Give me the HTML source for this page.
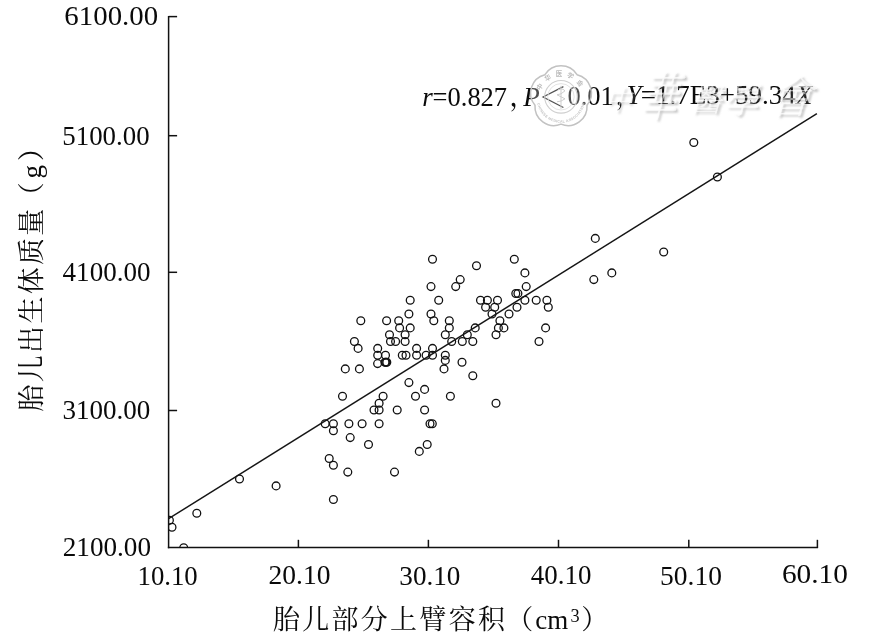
<!DOCTYPE html>
<html lang="zh"><head><meta charset="utf-8"><title>胎儿部分上臂容积与出生体质量</title>
<style>
html,body{margin:0;padding:0;background:#fff;}
body{width:875px;height:641px;overflow:hidden;}
svg{display:block;}
text{font-family:"Liberation Serif","Noto Serif CJK SC",serif;fill:#0a0a0a;}
.num text{font-size:27px;}
.cj{font-family:"Liberation Serif","Noto Serif CJK SC",serif;font-weight:400;}
</style></head><body>
<svg width="875" height="641" viewBox="0 0 875 641">
<rect width="875" height="641" fill="#fff"/>
<defs><clipPath id="plot"><rect x="168.6" y="0" width="700" height="547.6"/></clipPath></defs>
<g fill="none" stroke="#111" stroke-width="1.3" clip-path="url(#plot)">
<circle cx="693.8" cy="142.5" r="3.9"/>
<circle cx="717.4" cy="177.0" r="3.9"/>
<circle cx="595.3" cy="238.4" r="3.9"/>
<circle cx="663.7" cy="252.0" r="3.9"/>
<circle cx="432.5" cy="259.2" r="3.9"/>
<circle cx="514.3" cy="259.2" r="3.9"/>
<circle cx="476.5" cy="265.8" r="3.9"/>
<circle cx="524.9" cy="272.9" r="3.9"/>
<circle cx="611.8" cy="272.9" r="3.9"/>
<circle cx="460.2" cy="279.6" r="3.9"/>
<circle cx="593.8" cy="279.6" r="3.9"/>
<circle cx="455.7" cy="286.6" r="3.9"/>
<circle cx="431.0" cy="286.6" r="3.9"/>
<circle cx="526.2" cy="286.6" r="3.9"/>
<circle cx="515.8" cy="293.5" r="3.9"/>
<circle cx="517.9" cy="293.5" r="3.9"/>
<circle cx="410.2" cy="300.2" r="3.9"/>
<circle cx="438.7" cy="300.2" r="3.9"/>
<circle cx="480.5" cy="300.2" r="3.9"/>
<circle cx="487.4" cy="300.2" r="3.9"/>
<circle cx="497.5" cy="300.2" r="3.9"/>
<circle cx="524.9" cy="300.2" r="3.9"/>
<circle cx="536.2" cy="300.2" r="3.9"/>
<circle cx="546.9" cy="300.2" r="3.9"/>
<circle cx="485.6" cy="307.3" r="3.9"/>
<circle cx="494.7" cy="307.3" r="3.9"/>
<circle cx="517.0" cy="307.3" r="3.9"/>
<circle cx="548.3" cy="307.3" r="3.9"/>
<circle cx="408.9" cy="314.05" r="3.9"/>
<circle cx="431.0" cy="314.05" r="3.9"/>
<circle cx="492.0" cy="314.05" r="3.9"/>
<circle cx="509.0" cy="314.05" r="3.9"/>
<circle cx="360.8" cy="320.8" r="3.9"/>
<circle cx="386.6" cy="320.8" r="3.9"/>
<circle cx="398.7" cy="320.8" r="3.9"/>
<circle cx="433.8" cy="320.8" r="3.9"/>
<circle cx="449.3" cy="320.8" r="3.9"/>
<circle cx="499.9" cy="320.8" r="3.9"/>
<circle cx="399.6" cy="327.9" r="3.9"/>
<circle cx="410.2" cy="327.9" r="3.9"/>
<circle cx="449.3" cy="327.9" r="3.9"/>
<circle cx="475.2" cy="327.9" r="3.9"/>
<circle cx="498.4" cy="327.9" r="3.9"/>
<circle cx="503.9" cy="327.9" r="3.9"/>
<circle cx="545.6" cy="327.9" r="3.9"/>
<circle cx="389.5" cy="334.7" r="3.9"/>
<circle cx="405.1" cy="334.7" r="3.9"/>
<circle cx="445.3" cy="334.7" r="3.9"/>
<circle cx="467.3" cy="334.7" r="3.9"/>
<circle cx="496.0" cy="334.7" r="3.9"/>
<circle cx="354.4" cy="341.5" r="3.9"/>
<circle cx="390.5" cy="341.5" r="3.9"/>
<circle cx="395.6" cy="341.5" r="3.9"/>
<circle cx="405.1" cy="341.5" r="3.9"/>
<circle cx="451.7" cy="341.5" r="3.9"/>
<circle cx="462.3" cy="341.5" r="3.9"/>
<circle cx="472.8" cy="341.5" r="3.9"/>
<circle cx="539.0" cy="341.5" r="3.9"/>
<circle cx="358.1" cy="348.4" r="3.9"/>
<circle cx="377.7" cy="348.4" r="3.9"/>
<circle cx="416.6" cy="348.4" r="3.9"/>
<circle cx="432.5" cy="348.4" r="3.9"/>
<circle cx="377.7" cy="355.3" r="3.9"/>
<circle cx="385.5" cy="355.3" r="3.9"/>
<circle cx="402.3" cy="355.3" r="3.9"/>
<circle cx="406.0" cy="355.3" r="3.9"/>
<circle cx="416.6" cy="355.3" r="3.9"/>
<circle cx="426.1" cy="355.3" r="3.9"/>
<circle cx="432.5" cy="355.3" r="3.9"/>
<circle cx="445.3" cy="355.3" r="3.9"/>
<circle cx="445.3" cy="360.4" r="3.9"/>
<circle cx="385.0" cy="362.3" r="3.9"/>
<circle cx="385.9" cy="362.3" r="3.9"/>
<circle cx="386.8" cy="362.3" r="3.9"/>
<circle cx="462.0" cy="362.3" r="3.9"/>
<circle cx="377.6" cy="363.6" r="3.9"/>
<circle cx="345.3" cy="368.9" r="3.9"/>
<circle cx="359.4" cy="368.9" r="3.9"/>
<circle cx="444.0" cy="368.9" r="3.9"/>
<circle cx="472.8" cy="375.8" r="3.9"/>
<circle cx="408.9" cy="382.6" r="3.9"/>
<circle cx="424.6" cy="389.4" r="3.9"/>
<circle cx="342.5" cy="396.3" r="3.9"/>
<circle cx="383.1" cy="396.3" r="3.9"/>
<circle cx="415.5" cy="396.3" r="3.9"/>
<circle cx="450.4" cy="396.3" r="3.9"/>
<circle cx="379.1" cy="403.3" r="3.9"/>
<circle cx="496.0" cy="403.3" r="3.9"/>
<circle cx="374.0" cy="410.0" r="3.9"/>
<circle cx="379.1" cy="410.0" r="3.9"/>
<circle cx="397.2" cy="410.0" r="3.9"/>
<circle cx="424.6" cy="410.0" r="3.9"/>
<circle cx="325.2" cy="423.8" r="3.9"/>
<circle cx="333.4" cy="423.8" r="3.9"/>
<circle cx="348.9" cy="423.8" r="3.9"/>
<circle cx="362.1" cy="423.8" r="3.9"/>
<circle cx="379.1" cy="423.8" r="3.9"/>
<circle cx="430.0" cy="423.8" r="3.9"/>
<circle cx="432.3" cy="423.8" r="3.9"/>
<circle cx="333.4" cy="430.7" r="3.9"/>
<circle cx="350.2" cy="437.6" r="3.9"/>
<circle cx="368.5" cy="444.5" r="3.9"/>
<circle cx="427.2" cy="444.5" r="3.9"/>
<circle cx="419.3" cy="451.4" r="3.9"/>
<circle cx="329.2" cy="458.5" r="3.9"/>
<circle cx="333.4" cy="465.3" r="3.9"/>
<circle cx="347.8" cy="472.1" r="3.9"/>
<circle cx="394.5" cy="472.1" r="3.9"/>
<circle cx="239.5" cy="479.0" r="3.9"/>
<circle cx="276.1" cy="485.9" r="3.9"/>
<circle cx="333.4" cy="499.5" r="3.9"/>
<circle cx="196.8" cy="513.3" r="3.9"/>
<circle cx="169.4" cy="520.3" r="3.9"/>
<circle cx="172.0" cy="527.3" r="3.9"/>
<circle cx="183.7" cy="547.8" r="3.9"/>
</g>
<line x1="168.6" y1="518.7" x2="816.9" y2="113.6" stroke="#151515" stroke-width="1.45"/>
<g stroke="#111" stroke-width="1.5" fill="none">
<line x1="168.6" y1="15.9" x2="168.6" y2="548.35"/>
<line x1="167.85" y1="547.6" x2="818.1" y2="547.6"/>
<line x1="168.6" y1="16.6" x2="177.1" y2="16.6"/><line x1="168.6" y1="135.7" x2="177.1" y2="135.7"/><line x1="168.6" y1="272.3" x2="177.1" y2="272.3"/><line x1="168.6" y1="410.5" x2="177.1" y2="410.5"/><line x1="298.4" y1="547.6" x2="298.4" y2="539.8000000000001"/><line x1="428.4" y1="547.6" x2="428.4" y2="539.8000000000001"/><line x1="558.5" y1="547.6" x2="558.5" y2="539.8000000000001"/><line x1="688.8" y1="547.6" x2="688.8" y2="539.8000000000001"/><line x1="817.4" y1="547.6" x2="817.4" y2="539.8000000000001"/>
</g>
<g class="num">
<text x="64.37" y="25" textLength="93.76" lengthAdjust="spacingAndGlyphs">6100.00</text>
<text x="62.30" y="144.5" textLength="87.29" lengthAdjust="spacingAndGlyphs">5100.00</text>
<text x="62.58" y="281" textLength="87.91" lengthAdjust="spacingAndGlyphs">4100.00</text>
<text x="62.47" y="419.25" textLength="87.93" lengthAdjust="spacingAndGlyphs">3100.00</text>
<text x="62.71" y="556" textLength="88.31" lengthAdjust="spacingAndGlyphs">2100.00</text>
<text x="137.49" y="584.75" textLength="60.28" lengthAdjust="spacingAndGlyphs">10.10</text>
<text x="268.50" y="583.5" textLength="61.95" lengthAdjust="spacingAndGlyphs">20.10</text>
<text x="399.33" y="584.9" textLength="61.13" lengthAdjust="spacingAndGlyphs">30.10</text>
<text x="530.76" y="583.5" textLength="60.61" lengthAdjust="spacingAndGlyphs">40.10</text>
<text x="660.07" y="584.9" textLength="61.84" lengthAdjust="spacingAndGlyphs">50.10</text>
<text x="781.90" y="582.9" textLength="65.97" lengthAdjust="spacingAndGlyphs">60.10</text>
</g>
<g font-size="27">
<text class="cj" x="272.9 302.2 331.5 360.8 390.1 419.4 448.7 478.0" y="629.3">胎儿部分上臂容积</text>
<text class="cj" x="506.3" y="629.3">（</text>
<text x="535.3" y="628.7">cm</text>
<text x="570.6" y="621.9" font-size="18.3">3</text>
<text class="cj" x="581.3" y="629.3">）</text>
</g>
<g font-size="27" transform="rotate(-90)">
<text class="cj" x="-411.5 -382.2 -352.9 -323.6 -294.3 -265.0 -235.7" y="41.2">胎儿出生体质量</text>
<text class="cj" x="-209.2" y="41.2">（</text>
<text x="-178.6" y="41.2">g</text>
<text class="cj" x="-161.2" y="41.2">）</text>
</g>
<g font-size="27">
<text x="422.2" y="105.9" font-style="italic">r</text>
<text x="432.6" y="105.9" textLength="74.5" lengthAdjust="spacingAndGlyphs">=0.827</text>
<text class="cj" x="509.3" y="105.9">，</text>
<text x="523.3" y="105.5" font-style="italic">P</text>
<text class="cj" x="538.2" y="107.7" font-size="28.9" style="font-weight:300">＜</text>
<text x="567.4" y="105" textLength="46.4" lengthAdjust="spacingAndGlyphs">0.01</text>
<text class="cj" x="615.2" y="105">，</text>
<text y="103.6"><tspan x="626.6" font-style="italic">Y</tspan><tspan x="640.8">=1.7E3+59.34</tspan><tspan font-style="italic">X</tspan></text>
</g>
<defs>
<filter id="soft" x="-20%" y="-20%" width="140%" height="140%"><feGaussianBlur stdDeviation="0.55"/></filter>
<filter id="emb" x="-20%" y="-20%" width="140%" height="140%">
<feGaussianBlur in="SourceAlpha" stdDeviation="0.9" result="b"/>
<feOffset in="b" dx="1.6" dy="1.6" result="o"/>
<feFlood flood-color="#808080" flood-opacity="0.85"/><feComposite in2="o" operator="in" result="sh"/>
<feMerge><feMergeNode in="sh"/><feMergeNode in="SourceGraphic"/></feMerge>
</filter>
<path id="arcT" d="M539.5,97.8 A21.5,21.5 0 0 1 582.5,97.8"/>
<path id="arcB" d="M537.0,98.8 A24,24 0 0 0 585.0,98.8"/>
</defs>
<g filter="url(#soft)">
<path d="M544.92,74.67 A19,19 0 0 1 577.08,74.67 A19,19 0 0 1 587.01,105.25 A19,19 0 0 1 561.00,124.15 A19,19 0 0 1 534.99,105.25 A19,19 0 0 1 544.92,74.67Z" fill="#fff" fill-opacity="0.28" stroke="#c2c2c2" stroke-width="1.5"/>
<circle cx="561" cy="96.8" r="16.3" fill="none" stroke="#cfcfcf" stroke-width="1.1"/>
<circle cx="561" cy="96.8" r="13.2" fill="none" stroke="#dcdcdc" stroke-width="0.8"/>
<path d="M561,85.8 V108.8 M557,90.8 q4,-4 8,0 q-4,4 -8,4 q4,2 8,4 q-4,3 -8,3" fill="none" stroke="#cdcdcd" stroke-width="1"/>
<text font-size="6.5" style="fill:#bdbdbd;font-family:'Liberation Sans','Noto Sans CJK SC',sans-serif;font-weight:700" letter-spacing="4.2"><textPath href="#arcT" startOffset="50%" text-anchor="middle">中华医学会</textPath></text>
<text font-size="3.6" style="fill:#c4c4c4;font-family:'Liberation Sans',sans-serif;font-weight:700" letter-spacing="0.25"><textPath href="#arcB" startOffset="50%" text-anchor="middle">CHINESE MEDICAL ASSOCIATION</textPath></text>
</g>
<g filter="url(#emb)" style="fill:#fff;fill-opacity:0.62;font-weight:200" text-anchor="middle">
<text class="cj" style="fill:inherit;font-weight:inherit" font-size="27" transform="translate(618,110) skewX(-16)">中</text>
<text class="cj" style="fill:inherit;font-weight:inherit" font-size="46" transform="translate(658,116) skewX(-16) scale(0.8,1.15)">華</text>
<text class="cj" style="fill:inherit;font-weight:inherit" font-size="31" transform="translate(706,111) skewX(-16)">醫</text>
<text class="cj" style="fill:inherit;font-weight:inherit" font-size="35" transform="translate(741,113) skewX(-16)">學</text>
<text class="cj" style="fill:inherit;font-weight:inherit" font-size="44" transform="translate(790,113) skewX(-16)">會</text>
</g>
</svg>
</body></html>
